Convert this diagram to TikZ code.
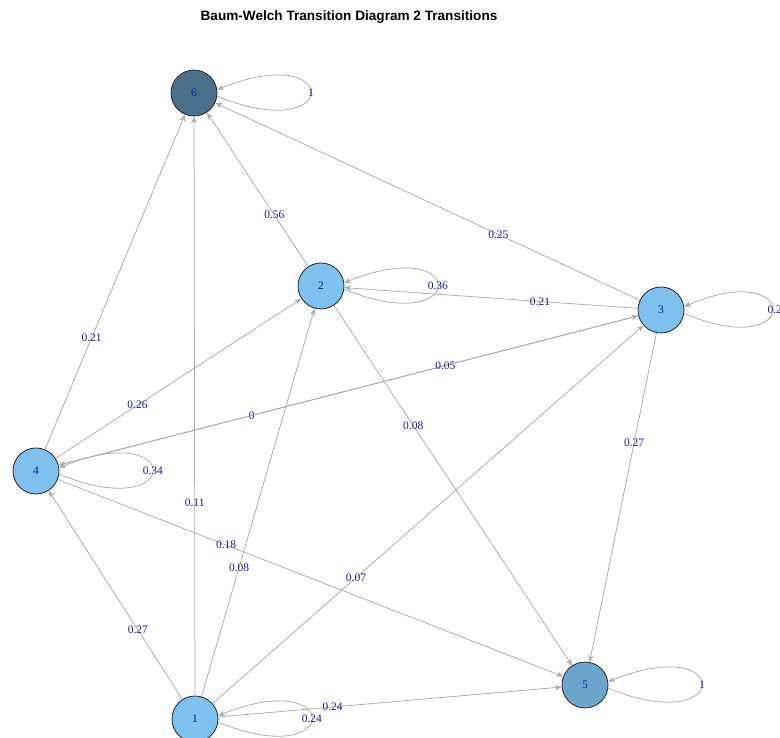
\documentclass[tikz,border=0pt]{standalone}
\usepackage{fontspec}
\setmainfont{Liberation Serif}
\newfontfamily\titlefont{Liberation Sans}
\usetikzlibrary{arrows.meta}
\definecolor{skyA}{HTML}{7EC0EE}
\definecolor{skyB}{HTML}{6CA6CD}
\definecolor{skyC}{HTML}{4A708B}
\definecolor{edgegray}{HTML}{ABABAB}
\definecolor{lblblue}{HTML}{1A1A9A}
\begin{document}
\begin{tikzpicture}[x=1pt,y=-1pt,
  state/.style={circle,draw=black!85,line width=0.8pt,minimum size=46pt,inner sep=0pt,
    font=\fontsize{11.5}{12}\selectfont,text=lblblue},
  edge/.style={draw=edgegray,line width=0.75pt,-{Stealth[length=7pt,width=5.5pt]}},
  lbl/.style={font=\fontsize{11.5}{12}\selectfont,text=lblblue,inner sep=0pt},
  mid/.style={pos=0.333}
]
\useasboundingbox (0,0) rectangle (780,738);
\node[font=\titlefont\bfseries\fontsize{13.6}{15}\selectfont] (title) at (349,17) {Baum-Welch Transition Diagram 2 Transitions};

\node[state,fill=skyA] (n1) at (195,719) {1};
\node[state,fill=skyA] (n2) at (321,286) {2};
\node[state,fill=skyA] (n3) at (661,310) {3};
\node[state,fill=skyA] (n4) at (36,471) {4};
\node[state,fill=skyB] (n5) at (585,685) {5};
\node[state,fill=skyC] (n6) at (194,93) {6};

% straight edges
\draw[edge] (n2) -- node[lbl,mid]{0.56} (n6);
\draw[edge] (n3) -- node[lbl,mid]{0.25} (n6);
\draw[edge] (n3) -- node[lbl,mid]{0.21} (n2);
\draw[edge] (n4) -- node[lbl,mid]{0.21} (n6);
\draw[edge] (n4) -- node[lbl,mid]{0.26} (n2);
\draw[edge] (n4) -- node[lbl,mid]{0} (n3);
\draw[edge] (n3) -- node[lbl,mid]{0.05} (n4);
\draw[edge] (n4) -- node[lbl,mid]{0.18} (n5);
\draw[edge] (n2) -- node[lbl,mid]{0.08} (n5);
\draw[edge] (n3) -- node[lbl,mid]{0.27} (n5);
\draw[edge] (n1) -- node[lbl,mid]{0.11} (n6);
\draw[edge] (n1) -- node[lbl,mid]{0.08} (n2);
\draw[edge] (n1) -- node[lbl,mid]{0.07} (n3);
\draw[edge] (n1) -- node[lbl,mid]{0.27} (n4);
\draw[edge] (n1) -- node[lbl,mid]{0.24} (n5);

% self loops
\draw[edge] (n6.-8) .. controls +(125,51) and +(125,-51) .. node[lbl,pos=0.5]{1} (n6.8);
\draw[edge] (n2.-8) .. controls +(125,51) and +(125,-51) .. node[lbl,pos=0.5]{0.36} (n2.8);
\draw[edge] (n3.-8) .. controls +(118,51) and +(118,-51) .. node[lbl,pos=0.5,xshift=5pt]{0.22} (n3.8);
\draw[edge] (n4.-8) .. controls +(125,51) and +(125,-51) .. node[lbl,pos=0.5]{0.34} (n4.8);
\draw[edge] (n5.-8) .. controls +(125,51) and +(125,-51) .. node[lbl,pos=0.5]{1} (n5.8);
\draw[edge] (n1.-8) .. controls +(125,51) and +(125,-51) .. node[lbl,pos=0.5]{0.24} (n1.8);
\end{tikzpicture}
\end{document}
